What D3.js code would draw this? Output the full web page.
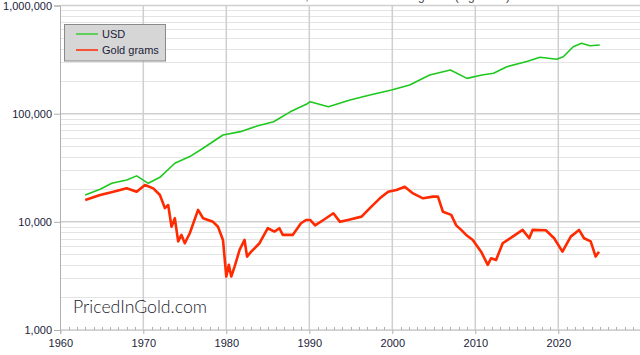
<!DOCTYPE html>
<html>
<head>
<meta charset="utf-8">
<script src="https://cdn.jsdelivr.net/npm/d3@7"></script>
<style>
  html, body { margin: 0; padding: 0; background: #fff; }
  svg { display: block; }
</style>
</head>
<body>
<svg id="chart" width="640" height="355"></svg>
<script>
// ---- data ----
const titleText = "US Median New House Price, in USD and in Gold grams (log scale)";
const seriesNames = ["USD", "Gold grams"];

const usdYears = [1963.0, 1964.8, 1966.2, 1968.0, 1969.2, 1970.6, 1972.0, 1973.8, 1975.6, 1977.2, 1979.6, 1981.7, 1983.7, 1985.7, 1987.7, 1989.7, 1990.1, 1992.3, 1994.9, 1997.3, 1999.9, 2002.1, 2004.5, 2007.0, 2009.0, 2010.8, 2012.2, 2013.8, 2016.2, 2017.8, 2019.8, 2020.6, 2021.8, 2022.8, 2023.8, 2025.0];
const usdValues = [17700, 20000, 22700, 24400, 26600, 22700, 25800, 34800, 40100, 47900, 63500, 68200, 77000, 84300, 104000, 122800, 129000, 116000, 134000, 149000, 165700, 184000, 228000, 253000, 212000, 228000, 236000, 272000, 303000, 332000, 318000, 336000, 416000, 448000, 425000, 431000];

const goldYears = [1963.0, 1964.8, 1966.4, 1968.0, 1969.2, 1970.2, 1971.2, 1972.0, 1972.6, 1973.0, 1973.4, 1973.8, 1974.2, 1974.6, 1975.0, 1975.6, 1976.6, 1977.2, 1978.4, 1979.0, 1979.6, 1980.0, 1980.3, 1980.6, 1981.0, 1981.6, 1982.2, 1982.5, 1983.0, 1984.0, 1985.0, 1985.8, 1986.4, 1986.8, 1988.0, 1989.0, 1989.6, 1990.1, 1990.7, 1991.7, 1992.9, 1993.7, 1994.9, 1996.3, 1997.3, 1998.5, 1999.5, 2000.5, 2001.5, 2002.5, 2003.7, 2004.9, 2005.5, 2006.1, 2007.1, 2007.7, 2008.3, 2008.9, 2009.7, 2010.7, 2011.5, 2011.9, 2012.5, 2013.3, 2014.5, 2015.7, 2016.5, 2016.9, 2018.5, 2019.5, 2020.5, 2021.5, 2022.5, 2023.1, 2023.9, 2024.5, 2024.9];
const goldValues = [15900, 17700, 19000, 20400, 19000, 21900, 20400, 17700, 13400, 14300, 9000, 10800, 6600, 7570, 6340, 7850, 12900, 10800, 10000, 9000, 6800, 3120, 4000, 3120, 3860, 5500, 6800, 4770, 5300, 6340, 8730, 8130, 8730, 7570, 7570, 9700, 10400, 10400, 9270, 10400, 12000, 10000, 10500, 11170, 13400, 16500, 19000, 19700, 21100, 18300, 16500, 17100, 17100, 12400, 11600, 9270, 8420, 7570, 6800, 5300, 4000, 4610, 4440, 6340, 7300, 8420, 7050, 8420, 8350, 7050, 5300, 7300, 8420, 7050, 6600, 4770, 5300];

const yTickValues = [1000, 10000, 100000, 1000000];
const xTickValues = [1960, 1970, 1980, 1990, 2000, 2010, 2020];
const watermark = "PricedInGold.com";

// ---- layout ----
const svg = d3.select("#chart");
const plotL = 60, plotR = 641, plotT = 5.5, plotB = 330;

const x = d3.scaleLinear().domain([1960, 2030]).range([60.3, 641.3]);
const y = d3.scaleLog().domain([1000, 1000000]).range([plotB, plotT]);

// minor horizontal gridlines
const minorY = [];
for (let d = 1000; d < 1000000; d *= 10) for (let m = 2; m <= 9; m++) minorY.push(d * m);
svg.append("g").selectAll("line").data(minorY).join("line")
  .attr("x1", plotL).attr("x2", plotR)
  .attr("y1", d => Math.round(y(d)) + 0.5).attr("y2", d => Math.round(y(d)) + 0.5)
  .attr("stroke", "#e4e4e4").attr("stroke-width", 1);

// major horizontal gridlines
svg.append("g").selectAll("line").data(yTickValues).join("line")
  .attr("x1", plotL).attr("x2", plotR)
  .attr("y1", d => y(d)).attr("y2", d => y(d))
  .attr("stroke", "#cfcfcf").attr("stroke-width", 1.5);

// vertical gridlines
svg.append("g").selectAll("line").data(xTickValues.slice(1)).join("line")
  .attr("x1", d => x(d)).attr("x2", d => x(d))
  .attr("y1", plotT).attr("y2", plotB)
  .attr("stroke", "#cfcfcf").attr("stroke-width", 1.5);

// left axis
const yAxis = d3.axisLeft(y).tickValues(yTickValues).tickFormat(d3.format(",")).tickSize(6).tickPadding(2);
const gy = svg.append("g").attr("transform", `translate(${plotL},0)`).call(yAxis);
gy.select(".domain").attr("stroke", "#b0b0b0");
gy.selectAll(".tick line").attr("stroke", "#b0b0b0");
gy.selectAll("text").attr("font-family", "Liberation Sans, Arial, sans-serif").attr("font-size", 11).attr("fill", "#1c1c3a");

// bottom axis
const xAxis = d3.axisBottom(x).tickValues(xTickValues).tickFormat(d3.format("d")).tickSize(4).tickPadding(5);
const gx = svg.append("g").attr("transform", `translate(0,${plotB})`).call(xAxis);
gx.select(".domain").attr("stroke", "#d0d0d0");
gx.selectAll(".tick line").attr("stroke", "#b0b0b0");
gx.selectAll("text").attr("font-family", "Liberation Sans, Arial, sans-serif").attr("font-size", 11).attr("fill", "#1c1c3a");

// minor year ticks
const years = d3.range(1961, 2030).filter(v => v % 10 !== 0);
svg.append("g").selectAll("line").data(years).join("line")
  .attr("x1", d => Math.round(x(d)) + 0.5).attr("x2", d => Math.round(x(d)) + 0.5)
  .attr("y1", plotB - 3).attr("y2", plotB)
  .attr("stroke", "#b0b0b0").attr("stroke-width", 1);

// title (cut at top edge, as in the reference)
svg.append("text").attr("x", 330).attr("y", -0.5).attr("text-anchor", "middle")
  .attr("font-family", "Liberation Sans, Arial, sans-serif").attr("font-size", 12).attr("fill", "#444")
  .text(titleText);

// lines
const line = d3.line().x(d => x(d[0])).y(d => y(d[1]));
const usd = usdYears.map((yr, i) => [yr, usdValues[i]]);
const gold = goldYears.map((yr, i) => [yr, goldValues[i]]);

svg.append("path").datum(gold).attr("d", line)
  .attr("fill", "none").attr("stroke", "#ff2a00").attr("stroke-width", 2.6).attr("stroke-linejoin", "round");
svg.append("path").datum(usd).attr("d", line)
  .attr("fill", "none").attr("stroke", "#1ec81e").attr("stroke-width", 1.6).attr("stroke-linejoin", "round");

// legend
const lg = svg.append("g");
lg.append("rect").attr("x", 64.5).attr("y", 24.5).attr("width", 101).attr("height", 36.5)
  .attr("fill", "#d6d6d6").attr("stroke", "#8a8a8a").attr("stroke-width", 1);
const legColors = ["#33cc33", "#ff2a00"];
seriesNames.forEach((name, i) => {
  const ly = 34 + i * 16;
  lg.append("line").attr("x1", 76).attr("x2", 98).attr("y1", ly).attr("y2", ly)
    .attr("stroke", legColors[i]).attr("stroke-width", 1.5);
  lg.append("text").attr("x", 102).attr("y", ly + 4).text(name)
    .attr("font-family", "Liberation Sans, Arial, sans-serif").attr("font-size", 11).attr("fill", "#1c1c3a");
});

// watermark
svg.append("text").attr("x", 73).attr("y", 313).text(watermark)
  .attr("font-family", "Lato, sans-serif").attr("font-weight", 300).attr("font-size", 17)
  .attr("textLength", 134).attr("lengthAdjust", "spacingAndGlyphs")
  .attr("fill", "#1a1a2e");
</script>
</body>
</html>
